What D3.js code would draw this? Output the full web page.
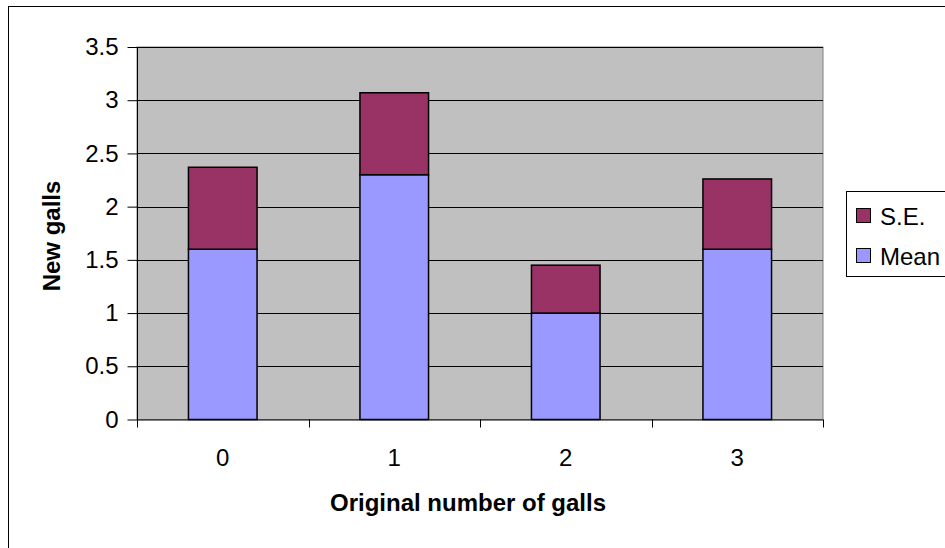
<!DOCTYPE html>
<html><head><meta charset="utf-8">
<script src="https://cdn.jsdelivr.net/npm/d3@7"></script>
<style>body{margin:0;background:#fff;}svg{display:block;font-family:"Liberation Sans",Arial,sans-serif;}</style>
</head><body><svg id="c" width="945" height="548"></svg>
<script>
const categories = ["0","1","2","3"];
const meanValues = [1.6, 2.3, 1.0, 1.6];
const seValues = [0.77, 0.77, 0.45, 0.66];
const yTicks = [0,0.5,1,1.5,2,2.5,3,3.5];
const seriesNames = ["S.E.","Mean"];
const colors = {"Mean":"#9999FF","S.E.":"#993366"};
const FONT = "Liberation Sans, Arial, sans-serif";

const svg = d3.select("#c");
svg.append("rect").attr("x",8.5).attr("y",6.5).attr("width",960).attr("height",560).attr("fill","#fff").attr("stroke","#000").attr("stroke-width",1);

const L=137,R=823,T=47,B=419.5;
const x = d3.scaleBand().domain(categories).range([L,R]).paddingInner(0.6).paddingOuter(0.3);
const y = d3.scaleLinear().domain([0,3.5]).range([B,T]);

svg.append("rect").attr("x",L).attr("y",T).attr("width",R-L).attr("height",B-T).attr("fill","#C0C0C0").attr("stroke","#808080");

yTicks.forEach(t=>{ if(t>0) svg.append("line").attr("x1",L).attr("x2",R).attr("y1",Math.round(y(t))+0.5).attr("y2",Math.round(y(t))+0.5).attr("stroke","#000").attr("stroke-width",1); });

const data = categories.map((c,i)=>({c,mean:meanValues[i],se:seValues[i]}));
const g = svg.append("g");
data.forEach(d=>{
  g.append("rect").attr("x",x(d.c)).attr("width",x.bandwidth()).attr("y",y(d.mean)).attr("height",y(0)-y(d.mean)).attr("fill",colors["Mean"]).attr("stroke","#000").attr("stroke-width",1.5);
  g.append("rect").attr("x",x(d.c)).attr("width",x.bandwidth()).attr("y",y(d.mean+d.se)).attr("height",y(d.mean)-y(d.mean+d.se)).attr("fill",colors["S.E."]).attr("stroke","#000").attr("stroke-width",1.5);
});

// y axis
const ya = svg.append("g").attr("transform",`translate(${L+0.5},0)`).call(d3.axisLeft(y).tickValues(yTicks).tickSize(10).tickPadding(9).tickFormat(d3.format("")));
ya.select(".domain").attr("stroke","#000").attr("d",`M0,${T}V${B}`);
ya.selectAll("text").attr("font-size",24).attr("fill","#000").attr("font-family",FONT);
ya.selectAll("line").attr("stroke","#000");

// x axis
const xa = svg.append("g").attr("transform",`translate(0,${B})`);
xa.append("line").attr("x1",L).attr("x2",R).attr("y1",0.5).attr("y2",0.5).attr("stroke","#000");
const bounds = d3.range(categories.length+1).map(i=>L+i*(R-L)/categories.length);
bounds.forEach(b=>xa.append("line").attr("x1",Math.round(b)+0.5).attr("x2",Math.round(b)+0.5).attr("y1",0).attr("y2",8).attr("stroke","#000"));
categories.forEach(c=>xa.append("text").attr("x",x(c)+x.bandwidth()/2).attr("y",46).attr("text-anchor","middle").attr("font-size",24).attr("font-family",FONT).text(c));

svg.append("text").attr("x",468).attr("y",511).attr("text-anchor","middle").attr("font-size",24).attr("font-weight","bold").attr("font-family",FONT).text("Original number of galls");
svg.append("text").attr("transform","translate(60,236) rotate(-90)").attr("text-anchor","middle").attr("font-size",24).attr("font-weight","bold").attr("font-family",FONT).text("New galls");

// legend
const lg = svg.append("g");
lg.append("rect").attr("x",846.5).attr("y",191.5).attr("width",110).attr("height",85).attr("fill","#fff").attr("stroke","#000");
seriesNames.forEach((n,i)=>{
  const yy = 216 + i*40;
  lg.append("rect").attr("x",856.5).attr("y",yy-7.5).attr("width",14).attr("height",14).attr("fill",colors[n]).attr("stroke","#000");
  lg.append("text").attr("x",880).attr("y",yy+8.5).attr("font-size",24).attr("font-family",FONT).text(n);
});
</script></body></html>
